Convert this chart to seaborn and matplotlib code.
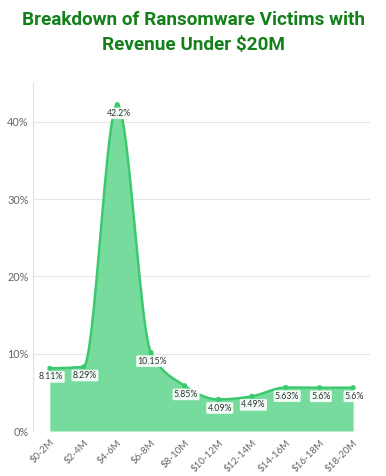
import numpy as np
import pandas as pd
import matplotlib
matplotlib.use("Agg")
import matplotlib.pyplot as plt
import seaborn as sns

# data
categories = ["$0-2M", "$2-4M", "$4-6M", "$6-8M", "$8-10M",
              "$10-12M", "$12-14M", "$14-16M", "$16-18M", "$18-20M"]
shares = [8.11, 8.29, 42.2, 10.15, 5.85, 4.09, 4.49, 5.63, 5.6, 5.6]
share_labels = ["8.11%", "8.29%", "42.2%", "10.15%", "5.85%",
                "4.09%", "4.49%", "5.63%", "5.6%", "5.6%"]
y_ticks = [0, 10, 20, 30, 40]

line_col = "#3cc96e"
fill_col = "#77db9e"
title_col = "#14801a"


def monotone_curve(x, y, n=40):
    # monotone cubic (like d3.curveMonotoneX) just for drawing the smooth line
    x = np.asarray(x, float)
    y = np.asarray(y, float)
    h = np.diff(x)
    s = np.diff(y) / h
    m = np.zeros_like(y)
    for i in range(1, len(y) - 1):
        if s[i - 1] * s[i] <= 0:
            m[i] = 0
        else:
            p = (s[i - 1] * h[i] + s[i] * h[i - 1]) / (h[i - 1] + h[i])
            m[i] = (np.sign(s[i - 1]) + np.sign(s[i])) * min(abs(s[i - 1]), abs(s[i]), 0.5 * abs(p))
    m[0] = (3 * s[0] - m[1]) / 2 if len(y) > 2 else s[0]
    m[-1] = (3 * s[-1] - m[-2]) / 2 if len(y) > 2 else s[-1]
    xs, ys = [], []
    for i in range(len(x) - 1):
        t = np.linspace(0, 1, n, endpoint=(i == len(x) - 2))
        h00 = 2 * t**3 - 3 * t**2 + 1
        h10 = t**3 - 2 * t**2 + t
        h01 = -2 * t**3 + 3 * t**2
        h11 = t**3 - t**2
        xs.append(x[i] + t * h[i])
        ys.append(h00 * y[i] + h10 * h[i] * m[i] + h01 * y[i + 1] + h11 * h[i] * m[i + 1])
    return np.concatenate(xs), np.concatenate(ys)


sns.set_theme(style="white")
plt.rcParams['font.family'] = ['Lato', 'DejaVu Sans']

df = pd.DataFrame({"pos": np.arange(len(categories)), "share": shares})
cx, cy = monotone_curve(df["pos"], df["share"])
curve = pd.DataFrame({"pos": cx, "share": cy})

fig = plt.figure(figsize=(3.86, 4.76), dpi=100)
ax = fig.add_axes([0.0855, 0.0945, 0.873, 0.731])

ax.fill_between(curve["pos"], 0, curve["share"], color=fill_col, lw=0, zorder=2)
sns.lineplot(data=curve, x="pos", y="share", color=line_col, lw=1.8, ax=ax, zorder=3)
sns.scatterplot(data=df, x="pos", y="share", color=line_col, s=14, edgecolor="none", ax=ax, zorder=4)

for i, (v, lab) in enumerate(zip(shares, share_labels)):
    ax.annotate(lab, (i, v), xytext=(1, -6.2), textcoords="offset points",
                ha="center", va="center", fontsize=6.3, color="#333333", zorder=6,
                bbox=dict(boxstyle="round,pad=0.15", fc="white", ec="none", alpha=0.9))

ax.set_xlim(-0.5, len(categories) - 0.5)
ax.set_ylim(0, 45)
ax.set_yticks(y_ticks)
ax.set_yticklabels([f"{t}%" for t in y_ticks], fontsize=7.8, color="#666666")
ax.set_xticks(df["pos"])
ax.set_xticklabels(categories, rotation=45, ha="right", rotation_mode="anchor",
                   fontsize=7, color="#666666")
ax.tick_params(axis="x", length=3, color="#cccccc", pad=2)
ax.tick_params(axis="y", length=0, pad=3)
ax.grid(axis="y", color="#e6e6e6", lw=0.8, zorder=0)
ax.set_axisbelow(True)
ax.set_xlabel("")
ax.set_ylabel("")
for sp in ["top", "right", "bottom"]:
    ax.spines[sp].set_visible(False)
ax.spines["left"].set_color("#e0e0e0")
ax.spines["left"].set_linewidth(0.8)
ax.axhline(0, color="#e6e6e6", lw=0.8, zorder=1)

fig.text(0.5, 0.958, "Breakdown of Ransomware Victims with", ha="center", va="center",
         fontsize=13.6, fontweight="bold", color=title_col, family=["Roboto", "DejaVu Sans"])
fig.text(0.5, 0.905, "Revenue Under $20M", ha="center", va="center",
         fontsize=13.6, fontweight="bold", color=title_col, family=["Roboto", "DejaVu Sans"])

fig.savefig("out.png", dpi=100)
